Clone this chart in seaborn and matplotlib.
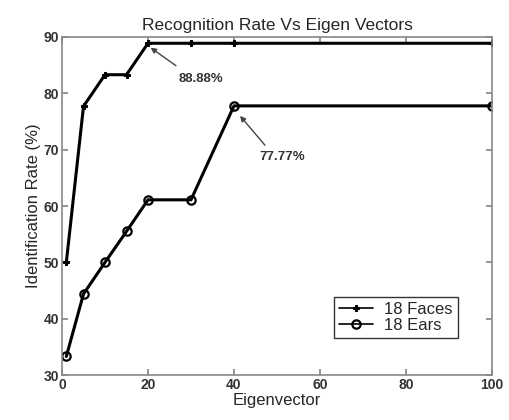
import matplotlib
matplotlib.use("Agg")
import matplotlib.pyplot as plt
import seaborn as sns
import pandas as pd

eigenvectors = [1, 5, 10, 15, 20, 30, 40, 100]
faces = [50.0, 77.7, 83.3, 83.3, 88.88, 88.88, 88.88, 88.88]
ears = [33.3, 44.4, 50.0, 55.5, 61.1, 61.1, 77.77, 77.77]
series_names = ["18 Faces", "18 Ears"]

sns.set_theme(style="white")
plt.rcParams['font.family'] = ['Liberation Sans', 'DejaVu Sans']

df = pd.DataFrame({
    "Eigenvector": eigenvectors * 2,
    "Rate": faces + ears,
    "Series": [series_names[0]] * len(faces) + [series_names[1]] * len(ears),
})

fig = plt.figure(figsize=(5.1, 4.2), dpi=100)
ax = fig.add_axes([0.1216, 0.107, 0.843, 0.805])

sns.lineplot(data=df[df.Series == series_names[0]], x="Eigenvector", y="Rate",
             color="black", marker="P", markersize=5, linewidth=2.2,
             markeredgecolor="black", ax=ax, label=series_names[0])
sns.lineplot(data=df[df.Series == series_names[1]], x="Eigenvector", y="Rate",
             color="black", marker="o", markersize=6, linewidth=2.2,
             markerfacecolor="none", markeredgecolor="black", markeredgewidth=1.6,
             ax=ax, label=series_names[1])

ax.set_xlim(0, 100)
ax.set_ylim(30, 90)
ax.set_xticks([0, 20, 40, 60, 80, 100])
ax.set_yticks([30, 40, 50, 60, 70, 80, 90])
ax.tick_params(axis="both", direction="in", length=4, labelsize=10, color="#888888",
               top=True, right=True, bottom=True, left=True, pad=2)
for lbl in ax.get_xticklabels() + ax.get_yticklabels():
    lbl.set_fontweight("bold")
    lbl.set_color("#333333")
for s in ax.spines.values():
    s.set_color("#888888")
    s.set_linewidth(1.2)

ax.set_title("Recognition Rate Vs Eigen Vectors", fontsize=12.5, pad=5)
ax.set_xlabel("Eigenvector", fontsize=12, labelpad=1)
ax.set_ylabel("Identification Rate (%)", fontsize=12, labelpad=2)

arrow = dict(arrowstyle="-|>", color="#444444", lw=1, mutation_scale=8,
             shrinkA=0, shrinkB=0)
ax.annotate("", xy=(20.6, 88.1), xytext=(26.5, 84.9), arrowprops=arrow)
ax.text(32.3, 82.5, "88.88%", fontsize=9.5, fontweight="bold", color="#333333",
        ha="center", va="center")
ax.annotate("", xy=(41.4, 76.0), xytext=(47.2, 70.8), arrowprops=arrow)
ax.text(51.2, 68.7, "77.77%", fontsize=9.5, fontweight="bold", color="#333333",
        ha="center", va="center")

leg = ax.legend(loc="upper right", bbox_to_anchor=(0.94, 0.255), frameon=True,
                fancybox=False, edgecolor="black", fontsize=12, handlelength=2.0,
                borderpad=0.3, labelspacing=0.05, handletextpad=0.7)
leg.get_frame().set_linewidth(1)
for line in leg.get_lines():
    line.set_linewidth(1.2)

fig.savefig("out.png", dpi=100)
